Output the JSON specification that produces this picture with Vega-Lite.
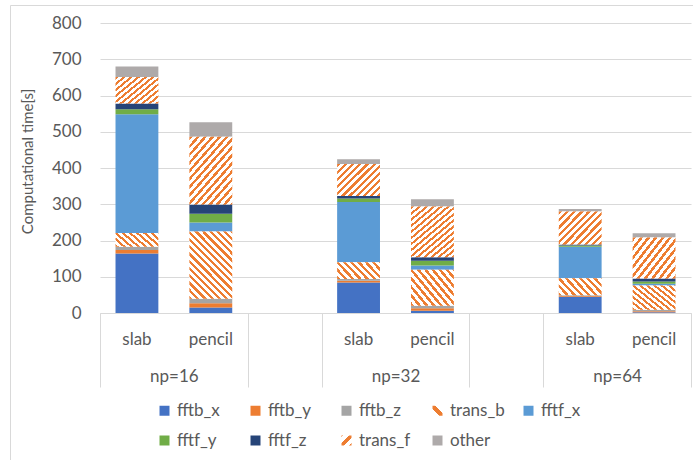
{
  "$schema": "https://vega.github.io/schema/vega-lite/v6.json",
  "width": 591,
  "height": 290,
  "autosize": "none",
  "padding": {"left": 100, "top": 23, "right": 2, "bottom": 147},
  "background": "white",
  "config": {
    "view": {"stroke": null},
    "font": "Lato",
    "axis": {"labelColor": "#595959", "titleColor": "#595959", "labelFontSize": 17, "labelFont": "Lato", "titleFont": "Lato"},
    "legend": {"labelColor": "#595959", "labelFont": "Lato"}
  },
  "layer": [
    {
      "data": {
        "values": [
          {"slot": "np=16|slab", "series": "fftb_x", "k": 1, "value": 164},
          {"slot": "np=16|slab", "series": "fftb_y", "k": 2, "value": 10},
          {"slot": "np=16|slab", "series": "fftb_z", "k": 3, "value": 9},
          {"slot": "np=16|slab", "series": "trans_b", "k": 4, "value": 38},
          {"slot": "np=16|slab", "series": "fftf_x", "k": 5, "value": 327},
          {"slot": "np=16|slab", "series": "fftf_y", "k": 6, "value": 14},
          {"slot": "np=16|slab", "series": "fftf_z", "k": 7, "value": 16},
          {"slot": "np=16|slab", "series": "trans_f", "k": 8, "value": 73},
          {"slot": "np=16|slab", "series": "other", "k": 9, "value": 29},
          {"slot": "np=16|pencil", "series": "fftb_x", "k": 1, "value": 15},
          {"slot": "np=16|pencil", "series": "fftb_y", "k": 2, "value": 12},
          {"slot": "np=16|pencil", "series": "fftb_z", "k": 3, "value": 12},
          {"slot": "np=16|pencil", "series": "trans_b", "k": 4, "value": 186},
          {"slot": "np=16|pencil", "series": "fftf_x", "k": 5, "value": 25},
          {"slot": "np=16|pencil", "series": "fftf_y", "k": 6, "value": 24},
          {"slot": "np=16|pencil", "series": "fftf_z", "k": 7, "value": 25},
          {"slot": "np=16|pencil", "series": "trans_f", "k": 8, "value": 187},
          {"slot": "np=16|pencil", "series": "other", "k": 9, "value": 40},
          {"slot": "np=32|slab", "series": "fftb_x", "k": 1, "value": 84},
          {"slot": "np=32|slab", "series": "fftb_y", "k": 2, "value": 5},
          {"slot": "np=32|slab", "series": "fftb_z", "k": 3, "value": 5},
          {"slot": "np=32|slab", "series": "trans_b", "k": 4, "value": 46},
          {"slot": "np=32|slab", "series": "fftf_x", "k": 5, "value": 166},
          {"slot": "np=32|slab", "series": "fftf_y", "k": 6, "value": 10},
          {"slot": "np=32|slab", "series": "fftf_z", "k": 7, "value": 7},
          {"slot": "np=32|slab", "series": "trans_f", "k": 8, "value": 88},
          {"slot": "np=32|slab", "series": "other", "k": 9, "value": 13},
          {"slot": "np=32|pencil", "series": "fftb_x", "k": 1, "value": 6},
          {"slot": "np=32|pencil", "series": "fftb_y", "k": 2, "value": 7},
          {"slot": "np=32|pencil", "series": "fftb_z", "k": 3, "value": 7},
          {"slot": "np=32|pencil", "series": "trans_b", "k": 4, "value": 99},
          {"slot": "np=32|pencil", "series": "fftf_x", "k": 5, "value": 12},
          {"slot": "np=32|pencil", "series": "fftf_y", "k": 6, "value": 13},
          {"slot": "np=32|pencil", "series": "fftf_z", "k": 7, "value": 10},
          {"slot": "np=32|pencil", "series": "trans_f", "k": 8, "value": 140},
          {"slot": "np=32|pencil", "series": "other", "k": 9, "value": 20},
          {"slot": "np=64|slab", "series": "fftb_x", "k": 1, "value": 45},
          {"slot": "np=64|slab", "series": "fftb_y", "k": 2, "value": 2},
          {"slot": "np=64|slab", "series": "fftb_z", "k": 3, "value": 2},
          {"slot": "np=64|slab", "series": "trans_b", "k": 4, "value": 47},
          {"slot": "np=64|slab", "series": "fftf_x", "k": 5, "value": 87},
          {"slot": "np=64|slab", "series": "fftf_y", "k": 6, "value": 3},
          {"slot": "np=64|slab", "series": "fftf_z", "k": 7, "value": 3},
          {"slot": "np=64|slab", "series": "trans_f", "k": 8, "value": 91},
          {"slot": "np=64|slab", "series": "other", "k": 9, "value": 7},
          {"slot": "np=64|pencil", "series": "fftb_x", "k": 1, "value": 2},
          {"slot": "np=64|pencil", "series": "fftb_y", "k": 2, "value": 3},
          {"slot": "np=64|pencil", "series": "fftb_z", "k": 3, "value": 4},
          {"slot": "np=64|pencil", "series": "trans_b", "k": 4, "value": 67},
          {"slot": "np=64|pencil", "series": "fftf_x", "k": 5, "value": 5},
          {"slot": "np=64|pencil", "series": "fftf_y", "k": 6, "value": 6},
          {"slot": "np=64|pencil", "series": "fftf_z", "k": 7, "value": 8},
          {"slot": "np=64|pencil", "series": "trans_f", "k": 8, "value": 113},
          {"slot": "np=64|pencil", "series": "other", "k": 9, "value": 12}
        ]
      },
      "transform": [
        {"stack": "value", "groupby": ["slot"], "sort": [{"field": "k", "order": "ascending"}], "as": ["v0", "v1"]}
      ],
      "encoding": {
        "x": {
          "field": "slot",
          "type": "nominal",
          "scale": {
            "domain": ["np=16|slab", "np=16|pencil", "gap1", "np=32|slab", "np=32|pencil", "gap2", "np=64|slab", "np=64|pencil"],
            "paddingInner": 0.42,
            "paddingOuter": 0.21
          },
          "axis": {
            "orient": "bottom",
            "title": null,
            "labelExpr": "indexof(datum.value, '|') > 0 ? split(datum.value, '|')[1] : ''",
            "labelAngle": 0,
            "ticks": false,
            "tickSize": 0,
            "domain": true,
            "domainColor": "#D9D9D9",
            "domainWidth": 1,
            "labelPadding": 26,
            "labelBaseline": "middle",
            "labelFontSize": 17,
            "grid": false
          }
        },
        "y": {
          "field": "v0",
          "type": "quantitative",
          "scale": {"domain": [0, 800], "nice": false},
          "axis": {
            "orient": "left",
            "title": "Computational time[s]",
            "values": [0, 100, 200, 300, 400, 500, 600, 700, 800],
            "grid": true,
            "gridColor": "#D9D9D9",
            "gridWidth": 1,
            "domain": false,
            "ticks": false,
            "tickSize": 0,
            "labelPadding": 19,
            "labelFontSize": 17,
            "titleFontSize": 15,
            "titleFontWeight": "normal",
            "titleAngle": -90,
            "titleX": -73,
            "titleY": 138,
            "titleAlign": "center",
            "titleBaseline": "middle"
          }
        },
        "y2": {"field": "v1"}
      },
      "layer": [
        {
          "transform": [{"filter": "datum.series !== 'trans_b' && datum.series !== 'trans_f'"}],
          "mark": {"type": "bar", "strokeWidth": 0},
          "encoding": {
            "fill": {
              "field": "series",
              "type": "nominal",
              "scale": {
                "domain": ["fftb_x", "fftb_y", "fftb_z", "trans_b", "fftf_x", "fftf_y", "fftf_z", "trans_f", "other"],
                "range": [
                  "#4472C4", "#ED7D31", "#A5A5A5",
                  {"expr": "{gradient: 'linear', x1: 0, y1: 1, x2: 1, y2: 0, stops: [{offset: 0, color: '#FFFFFF'}, {offset: 0.34, color: '#FFFFFF'}, {offset: 0.34, color: '#ED7D31'}, {offset: 0.66, color: '#ED7D31'}, {offset: 0.66, color: '#FFFFFF'}, {offset: 1, color: '#FFFFFF'}]}"},
                  "#5B9BD5", "#70AD47", "#264478",
                  {"expr": "{gradient: 'linear', x1: 0, y1: 0, x2: 1, y2: 1, stops: [{offset: 0, color: '#ED7D31'}, {offset: 0.1, color: '#ED7D31'}, {offset: 0.1, color: '#FFFFFF'}, {offset: 0.36, color: '#FFFFFF'}, {offset: 0.36, color: '#ED7D31'}, {offset: 0.64, color: '#ED7D31'}, {offset: 0.64, color: '#FFFFFF'}, {offset: 0.9, color: '#FFFFFF'}, {offset: 0.9, color: '#ED7D31'}, {offset: 1, color: '#ED7D31'}]}"},
                  "#AEAAAA"
                ]
              },
              "legend": {
                "orient": "none",
                "legendX": 56,
                "legendY": 379,
                "direction": "horizontal",
                "columns": 5,
                "title": null,
                "symbolType": "square",
                "symbolSize": 100,
                "symbolStrokeWidth": 0,
                "labelFontSize": 17,
                "labelOffset": 4,
                "gridAlign": "all",
                "columnPadding": 15,
                "rowPadding": 12
              }
            }
          }
        },
        {
          "transform": [{"filter": "datum.series === 'trans_b' && indexof(datum.slot, 'slab') > 0"}],
          "mark": {
            "type": "bar",
            "strokeWidth": 0,
            "fill": {"gradient": "linear", "x1": 0, "y1": 1, "x2": 2.356, "y2": 0.128, "stops": [
              {"offset": 0, "color": "#ED7D31"}, {"offset": 0.0281, "color": "#ED7D31"}, {"offset": 0.0281, "color": "#FFFFFF"}, {"offset": 0.0625, "color": "#FFFFFF"},
              {"offset": 0.0625, "color": "#ED7D31"}, {"offset": 0.0906, "color": "#ED7D31"}, {"offset": 0.0906, "color": "#FFFFFF"}, {"offset": 0.125, "color": "#FFFFFF"},
              {"offset": 0.125, "color": "#ED7D31"}, {"offset": 0.1531, "color": "#ED7D31"}, {"offset": 0.1531, "color": "#FFFFFF"}, {"offset": 0.1875, "color": "#FFFFFF"},
              {"offset": 0.1875, "color": "#ED7D31"}, {"offset": 0.2156, "color": "#ED7D31"}, {"offset": 0.2156, "color": "#FFFFFF"}, {"offset": 0.25, "color": "#FFFFFF"},
              {"offset": 0.25, "color": "#ED7D31"}, {"offset": 0.2781, "color": "#ED7D31"}, {"offset": 0.2781, "color": "#FFFFFF"}, {"offset": 0.3125, "color": "#FFFFFF"},
              {"offset": 0.3125, "color": "#ED7D31"}, {"offset": 0.3406, "color": "#ED7D31"}, {"offset": 0.3406, "color": "#FFFFFF"}, {"offset": 0.375, "color": "#FFFFFF"},
              {"offset": 0.375, "color": "#ED7D31"}, {"offset": 0.4031, "color": "#ED7D31"}, {"offset": 0.4031, "color": "#FFFFFF"}, {"offset": 0.4375, "color": "#FFFFFF"},
              {"offset": 0.4375, "color": "#ED7D31"}, {"offset": 0.4656, "color": "#ED7D31"}, {"offset": 0.4656, "color": "#FFFFFF"}, {"offset": 0.5, "color": "#FFFFFF"},
              {"offset": 0.5, "color": "#ED7D31"}, {"offset": 0.5281, "color": "#ED7D31"}, {"offset": 0.5281, "color": "#FFFFFF"}, {"offset": 0.5625, "color": "#FFFFFF"}
            ]}
          }
        },
        {
          "transform": [{"filter": "datum.series === 'trans_b' && (datum.slot === 'np=32|pencil' || datum.slot === 'np=64|pencil')"}],
          "mark": {
            "type": "bar",
            "strokeWidth": 0,
            "fill": {"gradient": "linear", "x1": 0, "y1": 1, "x2": 1.798, "y2": -0.259, "stops": [
              {"offset": 0, "color": "#ED7D31"}, {"offset": 0.0281, "color": "#ED7D31"}, {"offset": 0.0281, "color": "#FFFFFF"}, {"offset": 0.0625, "color": "#FFFFFF"},
              {"offset": 0.0625, "color": "#ED7D31"}, {"offset": 0.0906, "color": "#ED7D31"}, {"offset": 0.0906, "color": "#FFFFFF"}, {"offset": 0.125, "color": "#FFFFFF"},
              {"offset": 0.125, "color": "#ED7D31"}, {"offset": 0.1531, "color": "#ED7D31"}, {"offset": 0.1531, "color": "#FFFFFF"}, {"offset": 0.1875, "color": "#FFFFFF"},
              {"offset": 0.1875, "color": "#ED7D31"}, {"offset": 0.2156, "color": "#ED7D31"}, {"offset": 0.2156, "color": "#FFFFFF"}, {"offset": 0.25, "color": "#FFFFFF"},
              {"offset": 0.25, "color": "#ED7D31"}, {"offset": 0.2781, "color": "#ED7D31"}, {"offset": 0.2781, "color": "#FFFFFF"}, {"offset": 0.3125, "color": "#FFFFFF"},
              {"offset": 0.3125, "color": "#ED7D31"}, {"offset": 0.3406, "color": "#ED7D31"}, {"offset": 0.3406, "color": "#FFFFFF"}, {"offset": 0.375, "color": "#FFFFFF"},
              {"offset": 0.375, "color": "#ED7D31"}, {"offset": 0.4031, "color": "#ED7D31"}, {"offset": 0.4031, "color": "#FFFFFF"}, {"offset": 0.4375, "color": "#FFFFFF"},
              {"offset": 0.4375, "color": "#ED7D31"}, {"offset": 0.4656, "color": "#ED7D31"}, {"offset": 0.4656, "color": "#FFFFFF"}, {"offset": 0.5, "color": "#FFFFFF"},
              {"offset": 0.5, "color": "#ED7D31"}, {"offset": 0.5281, "color": "#ED7D31"}, {"offset": 0.5281, "color": "#FFFFFF"}, {"offset": 0.5625, "color": "#FFFFFF"},
              {"offset": 0.5625, "color": "#ED7D31"}, {"offset": 0.5906, "color": "#ED7D31"}, {"offset": 0.5906, "color": "#FFFFFF"}, {"offset": 0.625, "color": "#FFFFFF"},
              {"offset": 0.625, "color": "#ED7D31"}, {"offset": 0.6531, "color": "#ED7D31"}, {"offset": 0.6531, "color": "#FFFFFF"}, {"offset": 0.6875, "color": "#FFFFFF"}
            ]}
          }
        },
        {
          "transform": [{"filter": "datum.series === 'trans_b' && datum.slot === 'np=16|pencil'"}],
          "mark": {
            "type": "bar",
            "strokeWidth": 0,
            "fill": {"gradient": "linear", "x1": 0, "y1": 1, "x2": 0.78, "y2": -0.217, "stops": [
              {"offset": 0, "color": "#ED7D31"}, {"offset": 0.0281, "color": "#ED7D31"}, {"offset": 0.0281, "color": "#FFFFFF"}, {"offset": 0.0625, "color": "#FFFFFF"},
              {"offset": 0.0625, "color": "#ED7D31"}, {"offset": 0.0906, "color": "#ED7D31"}, {"offset": 0.0906, "color": "#FFFFFF"}, {"offset": 0.125, "color": "#FFFFFF"},
              {"offset": 0.125, "color": "#ED7D31"}, {"offset": 0.1531, "color": "#ED7D31"}, {"offset": 0.1531, "color": "#FFFFFF"}, {"offset": 0.1875, "color": "#FFFFFF"},
              {"offset": 0.1875, "color": "#ED7D31"}, {"offset": 0.2156, "color": "#ED7D31"}, {"offset": 0.2156, "color": "#FFFFFF"}, {"offset": 0.25, "color": "#FFFFFF"},
              {"offset": 0.25, "color": "#ED7D31"}, {"offset": 0.2781, "color": "#ED7D31"}, {"offset": 0.2781, "color": "#FFFFFF"}, {"offset": 0.3125, "color": "#FFFFFF"},
              {"offset": 0.3125, "color": "#ED7D31"}, {"offset": 0.3406, "color": "#ED7D31"}, {"offset": 0.3406, "color": "#FFFFFF"}, {"offset": 0.375, "color": "#FFFFFF"},
              {"offset": 0.375, "color": "#ED7D31"}, {"offset": 0.4031, "color": "#ED7D31"}, {"offset": 0.4031, "color": "#FFFFFF"}, {"offset": 0.4375, "color": "#FFFFFF"},
              {"offset": 0.4375, "color": "#ED7D31"}, {"offset": 0.4656, "color": "#ED7D31"}, {"offset": 0.4656, "color": "#FFFFFF"}, {"offset": 0.5, "color": "#FFFFFF"},
              {"offset": 0.5, "color": "#ED7D31"}, {"offset": 0.5281, "color": "#ED7D31"}, {"offset": 0.5281, "color": "#FFFFFF"}, {"offset": 0.5625, "color": "#FFFFFF"},
              {"offset": 0.5625, "color": "#ED7D31"}, {"offset": 0.5906, "color": "#ED7D31"}, {"offset": 0.5906, "color": "#FFFFFF"}, {"offset": 0.625, "color": "#FFFFFF"},
              {"offset": 0.625, "color": "#ED7D31"}, {"offset": 0.6531, "color": "#ED7D31"}, {"offset": 0.6531, "color": "#FFFFFF"}, {"offset": 0.6875, "color": "#FFFFFF"},
              {"offset": 0.6875, "color": "#ED7D31"}, {"offset": 0.7156, "color": "#ED7D31"}, {"offset": 0.7156, "color": "#FFFFFF"}, {"offset": 0.75, "color": "#FFFFFF"},
              {"offset": 0.75, "color": "#ED7D31"}, {"offset": 0.7781, "color": "#ED7D31"}, {"offset": 0.7781, "color": "#FFFFFF"}, {"offset": 0.8125, "color": "#FFFFFF"},
              {"offset": 0.8125, "color": "#ED7D31"}, {"offset": 0.8406, "color": "#ED7D31"}, {"offset": 0.8406, "color": "#FFFFFF"}, {"offset": 0.875, "color": "#FFFFFF"},
              {"offset": 0.875, "color": "#ED7D31"}, {"offset": 0.9031, "color": "#ED7D31"}, {"offset": 0.9031, "color": "#FFFFFF"}, {"offset": 0.9375, "color": "#FFFFFF"},
              {"offset": 0.9375, "color": "#ED7D31"}, {"offset": 0.9656, "color": "#ED7D31"}, {"offset": 0.9656, "color": "#FFFFFF"}, {"offset": 1, "color": "#FFFFFF"}
            ]}
          }
        },
        {
          "transform": [{"filter": "datum.series === 'trans_f' && datum.slot !== 'np=16|pencil' && datum.slot !== 'np=32|pencil'"}],
          "mark": {
            "type": "bar",
            "strokeWidth": 0,
            "fill": {"gradient": "linear", "x1": 0, "y1": 0, "x2": 1.715, "y2": 1.286, "stops": [
              {"offset": 0, "color": "#ED7D31"}, {"offset": 0.0281, "color": "#ED7D31"}, {"offset": 0.0281, "color": "#FFFFFF"}, {"offset": 0.0625, "color": "#FFFFFF"},
              {"offset": 0.0625, "color": "#ED7D31"}, {"offset": 0.0906, "color": "#ED7D31"}, {"offset": 0.0906, "color": "#FFFFFF"}, {"offset": 0.125, "color": "#FFFFFF"},
              {"offset": 0.125, "color": "#ED7D31"}, {"offset": 0.1531, "color": "#ED7D31"}, {"offset": 0.1531, "color": "#FFFFFF"}, {"offset": 0.1875, "color": "#FFFFFF"},
              {"offset": 0.1875, "color": "#ED7D31"}, {"offset": 0.2156, "color": "#ED7D31"}, {"offset": 0.2156, "color": "#FFFFFF"}, {"offset": 0.25, "color": "#FFFFFF"},
              {"offset": 0.25, "color": "#ED7D31"}, {"offset": 0.2781, "color": "#ED7D31"}, {"offset": 0.2781, "color": "#FFFFFF"}, {"offset": 0.3125, "color": "#FFFFFF"},
              {"offset": 0.3125, "color": "#ED7D31"}, {"offset": 0.3406, "color": "#ED7D31"}, {"offset": 0.3406, "color": "#FFFFFF"}, {"offset": 0.375, "color": "#FFFFFF"},
              {"offset": 0.375, "color": "#ED7D31"}, {"offset": 0.4031, "color": "#ED7D31"}, {"offset": 0.4031, "color": "#FFFFFF"}, {"offset": 0.4375, "color": "#FFFFFF"},
              {"offset": 0.4375, "color": "#ED7D31"}, {"offset": 0.4656, "color": "#ED7D31"}, {"offset": 0.4656, "color": "#FFFFFF"}, {"offset": 0.5, "color": "#FFFFFF"},
              {"offset": 0.5, "color": "#ED7D31"}, {"offset": 0.5281, "color": "#ED7D31"}, {"offset": 0.5281, "color": "#FFFFFF"}, {"offset": 0.5625, "color": "#FFFFFF"},
              {"offset": 0.5625, "color": "#ED7D31"}, {"offset": 0.5906, "color": "#ED7D31"}, {"offset": 0.5906, "color": "#FFFFFF"}, {"offset": 0.625, "color": "#FFFFFF"},
              {"offset": 0.625, "color": "#ED7D31"}, {"offset": 0.6531, "color": "#ED7D31"}, {"offset": 0.6531, "color": "#FFFFFF"}, {"offset": 0.6875, "color": "#FFFFFF"}
            ]}
          }
        },
        {
          "transform": [{"filter": "datum.series === 'trans_f' && (datum.slot === 'np=16|pencil' || datum.slot === 'np=32|pencil')"}],
          "mark": {
            "type": "bar",
            "strokeWidth": 0,
            "fill": {"gradient": "linear", "x1": 0, "y1": 0, "x2": 0.905, "y2": 1.267, "stops": [
              {"offset": 0, "color": "#ED7D31"}, {"offset": 0.0281, "color": "#ED7D31"}, {"offset": 0.0281, "color": "#FFFFFF"}, {"offset": 0.0625, "color": "#FFFFFF"},
              {"offset": 0.0625, "color": "#ED7D31"}, {"offset": 0.0906, "color": "#ED7D31"}, {"offset": 0.0906, "color": "#FFFFFF"}, {"offset": 0.125, "color": "#FFFFFF"},
              {"offset": 0.125, "color": "#ED7D31"}, {"offset": 0.1531, "color": "#ED7D31"}, {"offset": 0.1531, "color": "#FFFFFF"}, {"offset": 0.1875, "color": "#FFFFFF"},
              {"offset": 0.1875, "color": "#ED7D31"}, {"offset": 0.2156, "color": "#ED7D31"}, {"offset": 0.2156, "color": "#FFFFFF"}, {"offset": 0.25, "color": "#FFFFFF"},
              {"offset": 0.25, "color": "#ED7D31"}, {"offset": 0.2781, "color": "#ED7D31"}, {"offset": 0.2781, "color": "#FFFFFF"}, {"offset": 0.3125, "color": "#FFFFFF"},
              {"offset": 0.3125, "color": "#ED7D31"}, {"offset": 0.3406, "color": "#ED7D31"}, {"offset": 0.3406, "color": "#FFFFFF"}, {"offset": 0.375, "color": "#FFFFFF"},
              {"offset": 0.375, "color": "#ED7D31"}, {"offset": 0.4031, "color": "#ED7D31"}, {"offset": 0.4031, "color": "#FFFFFF"}, {"offset": 0.4375, "color": "#FFFFFF"},
              {"offset": 0.4375, "color": "#ED7D31"}, {"offset": 0.4656, "color": "#ED7D31"}, {"offset": 0.4656, "color": "#FFFFFF"}, {"offset": 0.5, "color": "#FFFFFF"},
              {"offset": 0.5, "color": "#ED7D31"}, {"offset": 0.5281, "color": "#ED7D31"}, {"offset": 0.5281, "color": "#FFFFFF"}, {"offset": 0.5625, "color": "#FFFFFF"},
              {"offset": 0.5625, "color": "#ED7D31"}, {"offset": 0.5906, "color": "#ED7D31"}, {"offset": 0.5906, "color": "#FFFFFF"}, {"offset": 0.625, "color": "#FFFFFF"},
              {"offset": 0.625, "color": "#ED7D31"}, {"offset": 0.6531, "color": "#ED7D31"}, {"offset": 0.6531, "color": "#FFFFFF"}, {"offset": 0.6875, "color": "#FFFFFF"},
              {"offset": 0.6875, "color": "#ED7D31"}, {"offset": 0.7156, "color": "#ED7D31"}, {"offset": 0.7156, "color": "#FFFFFF"}, {"offset": 0.75, "color": "#FFFFFF"},
              {"offset": 0.75, "color": "#ED7D31"}, {"offset": 0.7781, "color": "#ED7D31"}, {"offset": 0.7781, "color": "#FFFFFF"}, {"offset": 0.8125, "color": "#FFFFFF"},
              {"offset": 0.8125, "color": "#ED7D31"}, {"offset": 0.8406, "color": "#ED7D31"}, {"offset": 0.8406, "color": "#FFFFFF"}, {"offset": 0.875, "color": "#FFFFFF"},
              {"offset": 0.875, "color": "#ED7D31"}, {"offset": 0.9031, "color": "#ED7D31"}, {"offset": 0.9031, "color": "#FFFFFF"}, {"offset": 0.9375, "color": "#FFFFFF"},
              {"offset": 0.9375, "color": "#ED7D31"}, {"offset": 0.9656, "color": "#ED7D31"}, {"offset": 0.9656, "color": "#FFFFFF"}, {"offset": 1, "color": "#FFFFFF"}
            ]}
          }
        }
      ]
    },
    {
      "data": {"values": [{}]},
      "mark": {"type": "point", "opacity": 0},
      "encoding": {
        "x": {
          "datum": 0,
          "type": "quantitative",
          "scale": {"domain": [0, 8], "nice": false, "zero": false},
          "axis": {
            "orient": "bottom",
            "title": null,
            "values": [0, 2, 3, 5, 6, 8],
            "labels": false,
            "domain": false,
            "grid": false,
            "ticks": true,
            "tickSize": 74,
            "tickColor": "#D9D9D9",
            "tickWidth": 1
          }
        }
      }
    },
    {
      "data": {"values": [{}]},
      "mark": {"type": "point", "opacity": 0},
      "encoding": {
        "x": {
          "datum": 0,
          "type": "quantitative",
          "scale": {"domain": [0, 8], "nice": false, "zero": false},
          "axis": {
            "orient": "bottom",
            "title": null,
            "values": [1, 4, 7],
            "labelExpr": "datum.value == 1 ? 'np=16' : datum.value == 4 ? 'np=32' : 'np=64'",
            "labelFlush": false,
            "labelOverlap": false,
            "domain": false,
            "grid": false,
            "ticks": false,
            "tickSize": 0,
            "labelPadding": 63,
            "labelBaseline": "middle",
            "labelFontSize": 17
          }
        }
      }
    },
    {
      "data": {"values": [{}]},
      "mark": {"type": "point", "opacity": 0},
      "encoding": {
        "x": {
          "datum": 0,
          "type": "quantitative",
          "scale": {"domain": [0, 1], "nice": false, "zero": false, "range": [-90, 593]},
          "axis": {
            "orient": "top",
            "offset": 18,
            "title": null,
            "values": [],
            "labels": false,
            "ticks": false,
            "grid": false,
            "domain": true,
            "domainColor": "#D9D9D9",
            "domainWidth": 1
          }
        },
        "y": {
          "datum": 0,
          "type": "quantitative",
          "scale": {"domain": [0, 1], "nice": false, "zero": false, "range": [437, -18]},
          "axis": {
            "orient": "left",
            "offset": 90,
            "title": null,
            "values": [],
            "labels": false,
            "ticks": false,
            "grid": false,
            "domain": true,
            "domainColor": "#D9D9D9",
            "domainWidth": 1
          }
        }
      }
    }
  ],
  "resolve": {"scale": {"x": "independent", "y": "independent"}, "axis": {"x": "independent", "y": "independent"}}
}
